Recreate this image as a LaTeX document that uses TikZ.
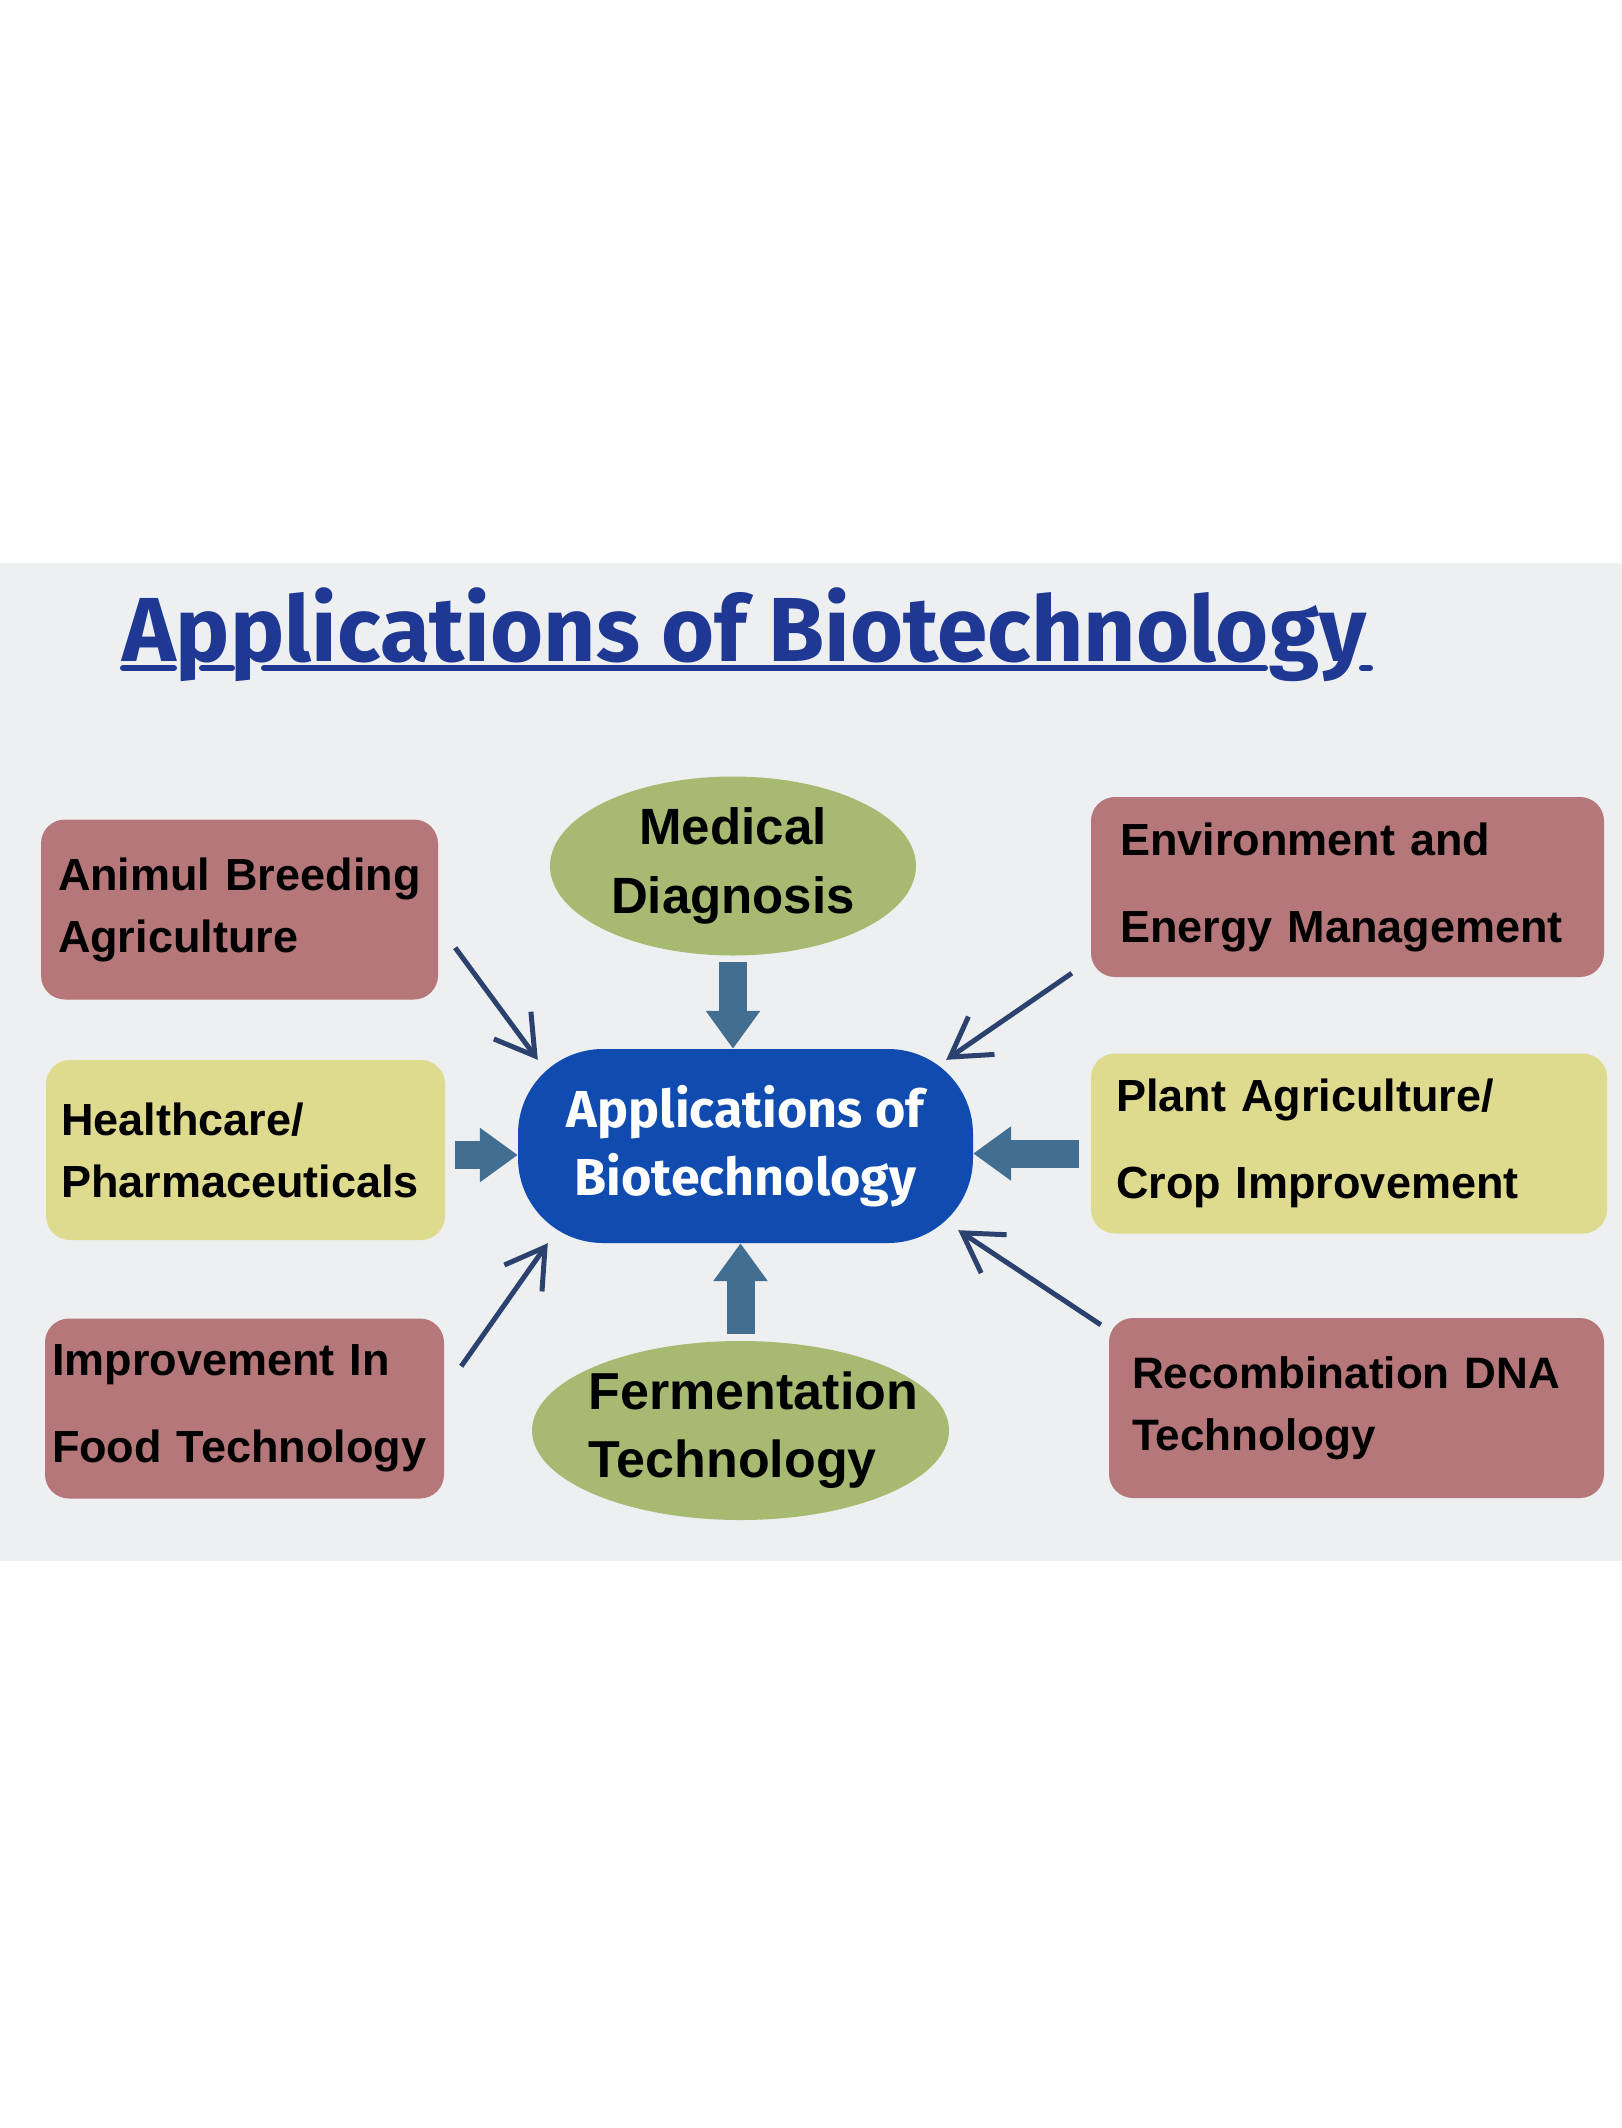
\documentclass[tikz,border=0pt]{standalone}
\usepackage{fontspec}
\setmainfont{Liberation Sans}
\newfontfamily\firafont{Fira Sans}
\usetikzlibrary{
    arrows.meta,
    calc,
    backgrounds,
    shapes.geometric
}

\definecolor{panelgray}{RGB}{238,239,241}
\definecolor{boxred}{RGB}{181,119,121}
\definecolor{boxyellow}{RGB}{222,218,142}
\definecolor{ovalgreen}{RGB}{168,186,114}
\definecolor{hubblue}{RGB}{16,76,176}
\definecolor{arrowsteel}{RGB}{66,111,145}
\definecolor{arrownavy}{RGB}{44,66,110}
\definecolor{titleblue}{RGB}{30,56,148}

\begin{document}
\begin{tikzpicture}[
        x=1pt, y=-1pt,
        every node/.style={
            inner sep=0pt
        },
        appbox/.style={
            rectangle,
            rounded corners=24pt,
            minimum height=180pt,
            align=left
        },
        tightlines/.style={
            font=\bfseries\fontsize{45pt}{62pt}\selectfont
        },
        looselines/.style={
            font=\bfseries\fontsize{45pt}{87pt}\selectfont
        },
        oval/.style={
            ellipse,
            fill=ovalgreen,
            minimum height=179pt,
            font=\bfseries\fontsize{51pt}{69pt}\selectfont
        },
        hub/.style={
            rectangle,
            rounded corners=85pt,
            fill=hubblue,
            text=white,
            minimum width=455pt,
            minimum height=194pt,
            align=center,
            font=\firafont\bfseries\fontsize{52pt}{68pt}\selectfont
        },
        blockarrow/.style={
            -{Triangle[length=38pt,width=52pt]},
            line width=28pt,
            draw=arrowsteel
        },
        thinarrow/.style={
            -{Straight Barb[length=38pt,width=46pt]},
            line width=5pt,
            draw=arrownavy
        },
        titlerule/.style={
            line width=6pt,
            line cap=round,
            draw=titleblue
        }
    ]

    \useasboundingbox (0,0) rectangle (1622,2128);
    \fill[white] (0,0) rectangle (1622,2128);
    \fill[panelgray] (0,563) rectangle (1622,1561);

    \node[anchor=base west, text=titleblue,
          font=\firafont\bfseries\fontsize{91pt}{100pt}\selectfont] (title) at (122,661)
        {Applications of Biotechnology};
    % underline, broken round the descenders
    \foreach \a/\b in {1/52, 80/110, 142/1143, 1240/1248}
        \draw[titlerule] ($(title.base west)+(\a,7)$) -- ($(title.base west)+(\b,7)$);

    % left column
    \node[appbox, tightlines, fill=boxred, minimum width=397pt, text width=363pt]
        (animal) at (239.5,909.5) {Animul Breeding\\Agriculture};

    \node[appbox, tightlines, fill=boxyellow, minimum width=399pt, text width=369pt]
        (health) at (245.5,1150) {Healthcare/\\Pharmaceuticals};

    \node[appbox, looselines, fill=boxred, minimum width=399pt, text width=385pt]
        (improve) at (244.5,1408.5) {Improvement In\\Food Technology};

    % right column
    \node[appbox, looselines, fill=boxred, minimum width=513pt, text width=455pt]
        (environ) at (1347.5,887) {Environment and\\Energy Management};

    \node[appbox, looselines, fill=boxyellow, minimum width=516pt, text width=466pt]
        (plant) at (1349,1143.5) {Plant Agriculture/\\Crop Improvement};

    \node[appbox, fill=boxred, minimum width=495pt, text width=449pt,
          font=\bfseries\fontsize{44pt}{62pt}\selectfont]
        (recomb) at (1356.5,1408) {Recombination DNA\\Technology};

    % middle column
    \node[oval, minimum width=366pt, align=center]
        (medical) at (733,866) {Medical\\Diagnosis};

    \node[oval, minimum width=417pt, inner xsep=-37pt, align=left,
          font=\bfseries\fontsize{52pt}{68pt}\selectfont]
        (ferment) at (740.5,1430.5)
        {\hspace*{26pt}Fermentation\\\hspace*{26pt}Technology};

    \node[hub] (hub) at (745.5,1146) {Applications of\\Biotechnology};

    % block arrows
    \draw[blockarrow, shorten <=6pt] (medical) -- (medical |- hub.north);
    \draw[blockarrow, shorten <=7pt] (ferment) -- (ferment |- hub.south);
    \draw[blockarrow] ([xshift=10pt,yshift=-5pt]health.east) -- ([yshift=-5pt]health.east -| hub.west);
    \draw[blockarrow] ([xshift=-12pt,yshift=-10pt]plant.west) -- ([yshift=-10pt]plant.west -| hub.east);

    % thin arrows
    \coordinate (animalTail) at ($(animal.south east)+(17,-52)$);
    \coordinate (animalTip) at ($(hub.north west)+(20,11)$);
    \coordinate (environTail) at ($(environ.south west)+(-19,-4)$);
    \coordinate (environTip) at ($(hub.north east)+(-27,11)$);
    \coordinate (improveTail) at ($(improve.north east)+(17,48)$);
    \coordinate (improveTip) at ($(hub.south west)+(30,0)$);
    \coordinate (recombTail) at ($(recomb.north west)+(-8,7)$);
    \coordinate (recombTip) at ($(hub.south east)+(-15,-13)$);

    \draw[thinarrow] (animalTail) -- (animalTip);
    \draw[thinarrow] (environTail) -- (environTip);
    \draw[thinarrow] (improveTail) -- (improveTip);
    \draw[thinarrow] (recombTail) -- (recombTip);

\end{tikzpicture}
\end{document}
